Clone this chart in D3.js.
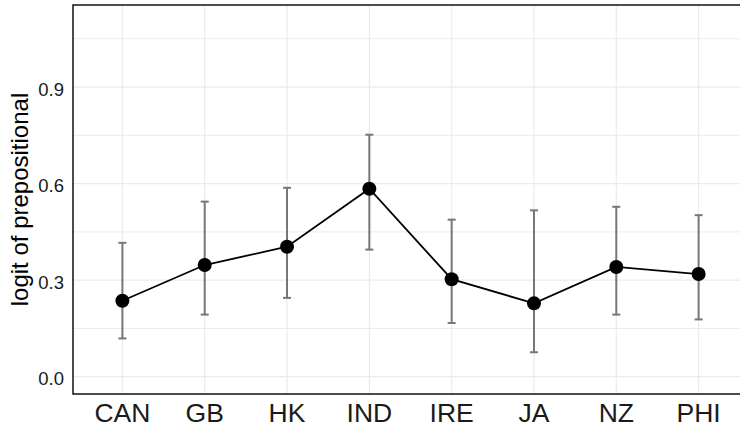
<!DOCTYPE html>
<html>
<head>
<meta charset="utf-8">
<script src="https://cdn.jsdelivr.net/npm/d3@7"></script>
<style>
  body { margin: 0; background: #fff; }
  svg { display: block; font-family: "Liberation Sans", Arial, sans-serif; }
</style>
</head>
<body>
<svg id="chart" width="740" height="425"></svg>
<script>
var regions = ["CAN", "GB", "HK", "IND", "IRE", "JA", "NZ", "PHI"];
var estimates = [0.236, 0.347, 0.404, 0.584, 0.303, 0.228, 0.341, 0.319];
var upperCI = [0.416, 0.544, 0.587, 0.752, 0.488, 0.517, 0.528, 0.502];
var lowerCI = [0.119, 0.193, 0.245, 0.395, 0.167, 0.076, 0.193, 0.178];
var yMajorTicks = [0.0, 0.3, 0.6, 0.9];
var yMinorTicks = [0.15, 0.45, 0.75, 1.05];

var panelLeft = 73, panelRight = 748, panelTop = 5, panelBottom = 394;
var gridColor = "#ebebeb";
var errColor = "#777777";

var svg = d3.select("#chart");

var x = d3.scalePoint()
    .domain(regions)
    .range([panelLeft, panelRight])
    .padding(0.6);

var y = d3.scaleLinear()
    .domain([-0.0537, 1.155])
    .range([panelBottom, panelTop]);

// grid
var grid = svg.append("g");
grid.selectAll("line.minor")
    .data(yMinorTicks)
    .enter().append("line")
    .attr("x1", panelLeft).attr("x2", panelRight)
    .attr("y1", function(d) { return y(d); })
    .attr("y2", function(d) { return y(d); })
    .style("stroke", gridColor).style("stroke-width", 1);
grid.selectAll("line.major")
    .data(yMajorTicks)
    .enter().append("line")
    .attr("x1", panelLeft).attr("x2", panelRight)
    .attr("y1", function(d) { return y(d); })
    .attr("y2", function(d) { return y(d); })
    .style("stroke", gridColor).style("stroke-width", 1.2);
grid.selectAll("line.vert")
    .data(regions)
    .enter().append("line")
    .attr("x1", function(d) { return x(d); })
    .attr("x2", function(d) { return x(d); })
    .attr("y1", panelTop).attr("y2", panelBottom)
    .style("stroke", gridColor).style("stroke-width", 1.2);

// error bars
var capHalf = 4;
var err = svg.append("g")
    .style("stroke", errColor)
    .style("stroke-width", 2);
regions.forEach(function(r, i) {
    var cx = x(r);
    err.append("line")
        .attr("x1", cx).attr("x2", cx)
        .attr("y1", y(lowerCI[i])).attr("y2", y(upperCI[i]));
    err.append("line")
        .attr("x1", cx - capHalf).attr("x2", cx + capHalf)
        .attr("y1", y(upperCI[i])).attr("y2", y(upperCI[i]));
    err.append("line")
        .attr("x1", cx - capHalf).attr("x2", cx + capHalf)
        .attr("y1", y(lowerCI[i])).attr("y2", y(lowerCI[i]));
});

// connecting line
var line = d3.line()
    .x(function(d, i) { return x(regions[i]); })
    .y(function(d) { return y(d); });

svg.append("path")
    .datum(estimates)
    .attr("d", line)
    .style("fill", "none")
    .style("stroke", "#000")
    .style("stroke-width", 1.8);

svg.selectAll("circle.pt")
    .data(estimates)
    .enter().append("circle")
    .attr("cx", function(d, i) { return x(regions[i]); })
    .attr("cy", function(d) { return y(d); })
    .attr("r", 7)
    .style("fill", "#000");

// panel border
svg.append("rect")
    .attr("x", panelLeft).attr("y", panelTop)
    .attr("width", panelRight - panelLeft)
    .attr("height", panelBottom - panelTop)
    .style("fill", "none")
    .style("stroke", "#000")
    .style("stroke-width", 1.4);

// y tick labels
svg.selectAll("text.ytick")
    .data(yMajorTicks)
    .enter().append("text")
    .attr("x", 64)
    .attr("y", function(d) { return y(d) + 8.5; })
    .attr("text-anchor", "end")
    .style("font-size", "18.5px")
    .style("fill", "#1a1a1a")
    .text(function(d) { return d3.format(".1f")(d); });

// x tick labels
svg.selectAll("text.xtick")
    .data(regions)
    .enter().append("text")
    .attr("x", function(d) { return x(d); })
    .attr("y", 422)
    .attr("text-anchor", "middle")
    .style("font-size", "26.5px")
    .style("fill", "#1a1a1a")
    .text(function(d) { return d; });

// y axis title
svg.append("text")
    .attr("transform", "translate(28," + ((panelTop + panelBottom) / 2) + ") rotate(-90)")
    .attr("text-anchor", "middle")
    .style("font-size", "24px")
    .style("fill", "#000")
    .text("logit of prepositional");
</script>
</body>
</html>
